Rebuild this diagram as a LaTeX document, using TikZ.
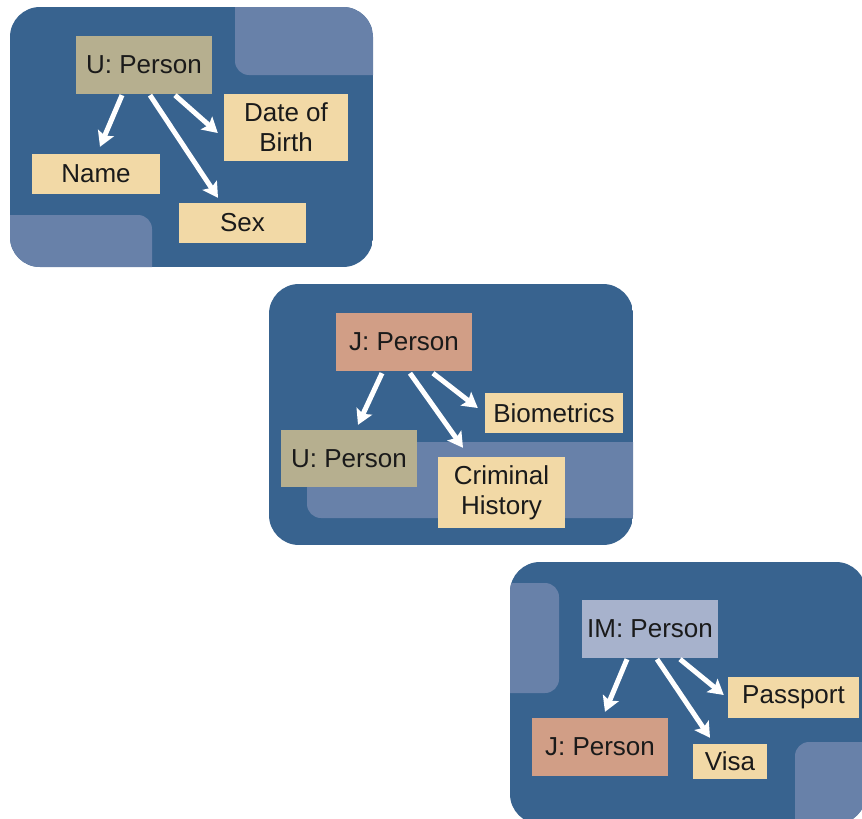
\documentclass[tikz,border=0pt]{standalone}
\usepackage{fontspec}
\setmainfont{Liberation Sans}
\usetikzlibrary{arrows.meta,calc}

\definecolor{panelblue}{HTML}{38638F}
\definecolor{panellight}{HTML}{6881A9}
\definecolor{attrtan}{HTML}{F2D9A6}
\definecolor{utan}{HTML}{B6AF8F}
\definecolor{jsalmon}{HTML}{D19E86}
\definecolor{imlav}{HTML}{A7B2CC}
\definecolor{inkdark}{HTML}{1A1A1A}

\tikzset{
  panel/.style={fill=panelblue, rounded corners=30pt},
  patch/.style={fill=panellight, rounded corners=14pt},
  box/.style={rectangle, inner sep=0pt, align=center, text=inkdark,
    font=\fontsize{26}{30}\selectfont},
  attr/.style={box, fill=attrtan},
  ubox/.style={box, fill=utan},
  jbox/.style={box, fill=jsalmon},
  imbox/.style={box, fill=imlav},
  link/.style={draw=white, line width=5pt,
    -{Stealth[length=15pt,width=17pt,inset=3pt]}},
}

\begin{document}
\begin{tikzpicture}[x=1pt,y=-1pt]
\useasboundingbox (0,0) rectangle (862,819);
\fill[white] (0,0) rectangle (862,819);

% ---- first panel: U ----
\begin{scope}
  \clip[rounded corners=30pt] (10,7) rectangle (373,267);
  \fill[panelblue] (10,7) rectangle (373,267);
  \fill[patch] (235,-20) rectangle (400,75);
  \fill[patch] (-20,215) rectangle (152,300);
\end{scope}
\node[ubox, minimum width=136pt, minimum height=58pt] (u) at (144,65) {U: Person};
\node[attr, minimum width=124pt, minimum height=67pt] (dob) at (286,127.5) {Date of\\Birth};
\node[attr, minimum width=128pt, minimum height=40pt] (name) at (96,174) {Name};
\node[attr, minimum width=127pt, minimum height=40pt] (sex) at (242.5,223) {Sex};
\draw[link] ($(u.south)+(-22,1)$) -- ($(name.north)+(4,-7)$);
\draw[link] ($(u.south)+(6,1)$) -- ($(sex.north)+(-24.5,-5)$);
\draw[link] ($(u.south)+(31,1)$) -- ($(dob.west)+(-6,5.5)$);

% ---- second panel: J ----
\begin{scope}
  \clip[rounded corners=30pt] (269,284) rectangle (633,545);
  \fill[panelblue] (269,284) rectangle (633,545);
  \fill[patch] (307,442) rectangle (660,518);
\end{scope}
\node[jbox, minimum width=136pt, minimum height=58pt] (j) at (404,342) {J: Person};
\node[attr, minimum width=138pt, minimum height=40pt] (bio) at (554,413) {Biometrics};
\node[ubox, minimum width=136pt, minimum height=57pt] (ju) at (349,458.5) {U: Person};
\node[attr, minimum width=127pt, minimum height=71pt] (crim) at (501.5,492.5) {Criminal\\History};
\draw[link] ($(j.south)+(-22,2)$) -- ($(ju.north)+(9,-5)$);
\draw[link] ($(j.south)+(6,2)$) -- ($(crim.north)+(-38.5,-9)$);
\draw[link] ($(j.south)+(29,2)$) -- ($(bio.west)+(-7,-5)$);

% ---- third panel: IM ----
\begin{scope}
  \clip[rounded corners=30pt] (510,562) rectangle (866,824);
  \fill[panelblue] (510,562) rectangle (866,824);
  \fill[patch] (480,583) rectangle (559,693);
  \fill[patch] (795,742) rectangle (900,850);
\end{scope}
\node[imbox, minimum width=136pt, minimum height=58pt] (im) at (650,629) {IM: Person};
\node[attr, minimum width=131pt, minimum height=41pt] (pass) at (793.5,697.5) {Passport};
\node[jbox, minimum width=136pt, minimum height=58pt] (imj) at (600,747) {J: Person};
\node[attr, minimum width=74pt, minimum height=35pt] (visa) at (730,761.5) {Visa};
\draw[link] ($(im.south)+(-23,1)$) -- ($(imj.north)+(5,-6)$);
\draw[link] ($(im.south)+(7,1)$) -- ($(visa.north)+(-20,-6)$);
\draw[link] ($(im.south)+(30,1)$) -- ($(pass.west)+(-4,-2.5)$);
\end{tikzpicture}
\end{document}
